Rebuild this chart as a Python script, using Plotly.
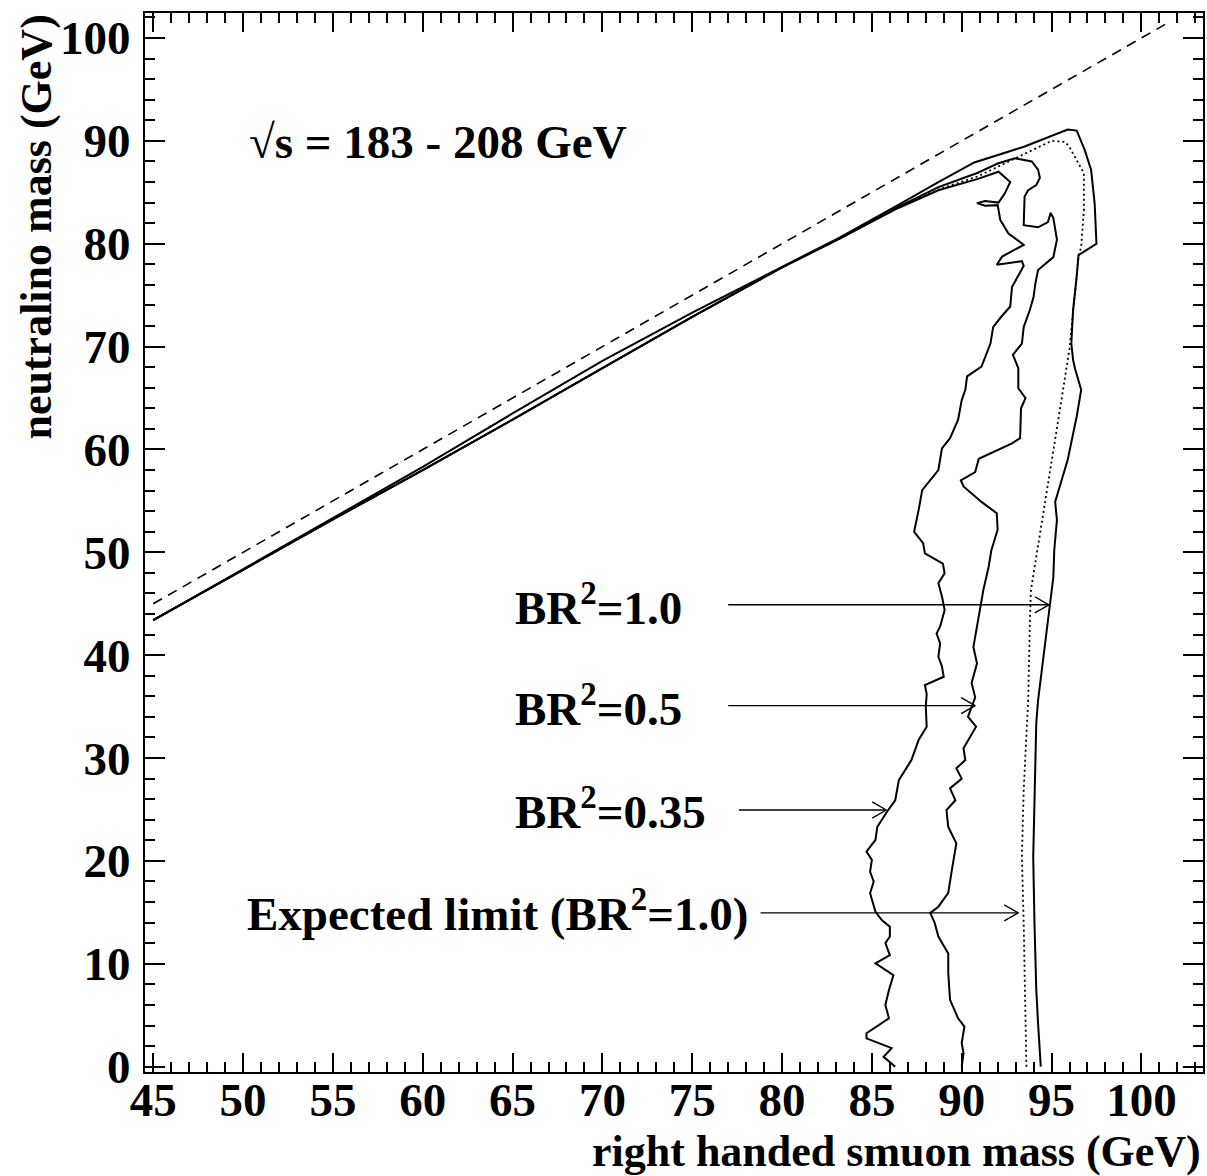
import plotly.graph_objects as go

# ---------------- data ----------------
# kinematic limit (dashed): neutralino mass = smuon mass
kin_x = [45.0, 101.6]
kin_y = [45.0, 101.6]

# observed limit BR^2 = 1.0 (outer solid)
obs10_x = [45.0, 50.0, 55.0, 60.0, 65.0, 70.0, 75.0, 80.0, 83.2, 86.5, 88.7, 90.7, 93.5, 95.9, 96.4,
           96.85, 97.2, 97.4, 97.5, 96.5, 96.4, 96.2, 96.1, 96.2, 96.3, 96.65, 96.4, 95.9, 95.5, 95.2,
           95.3, 95.15, 95.1, 94.9, 94.7, 94.45, 94.25, 94.15, 94.05, 93.98, 94.05, 94.15, 94.25, 94.4]
obs10_y = [43.4, 48.35, 53.3, 58.3, 63.5, 68.6, 73.3, 77.8, 80.6, 83.8, 86.0, 87.9, 89.45, 91.1, 91.0,
           89.1, 87.2, 83.9, 80.0, 78.9, 76.8, 73.6, 70.3, 68.7, 67.9, 65.8, 63.2, 59.0, 56.7, 54.9,
           53.15, 50.2, 47.6, 44.9, 42.1, 38.6, 35.6, 33.4, 26.9, 20.4, 13.9, 7.5, 4.2, 0.0]

# expected limit BR^2 = 1.0 (dotted)
exp10_x = [45.0, 50.0, 55.0, 60.0, 65.0, 70.0, 75.0, 80.0, 83.2, 86.5, 88.9, 90.9, 93.15, 95.0, 95.75,
           96.0, 96.5, 96.8, 96.8, 96.65, 96.5, 96.4, 96.2, 96.0, 95.55, 95.2, 94.8, 94.45, 94.1,
           93.85, 93.8, 93.7, 93.45, 93.35, 93.45, 93.5, 93.6]
exp10_y = [43.4, 48.3, 53.2, 58.0, 62.9, 67.9, 72.9, 77.7, 80.5, 83.6, 85.4, 86.55, 88.45, 90.0, 89.9,
           89.4, 87.8, 86.85, 83.3, 79.7, 78.7, 76.8, 73.6, 69.8, 64.8, 60.9, 56.7, 52.8, 48.9,
           46.3, 43.7, 35.6, 26.9, 20.4, 13.9, 7.5, 0.0]

# observed limit BR^2 = 0.5 (middle solid)
obs05_x = [45.0, 50.0, 55.0, 60.0, 65.0, 70.0, 75.0, 80.0, 83.2, 86.5, 88.7, 90.9, 92.0, 92.95, 93.9,
           94.25, 94.35, 94.15, 93.7, 93.5, 93.45, 94.25, 94.8, 94.95, 95.1, 95.3, 95.1, 94.25, 94.1,
           94.0, 93.8, 93.45, 93.35, 92.85, 93.15, 93.15, 93.55, 93.3, 93.25, 92.8, 90.95, 90.75,
           89.95, 90.1, 91.1, 91.95, 92.0, 91.65, 91.5, 91.2, 91.0, 90.85, 90.65, 90.85, 90.55, 90.75,
           90.35, 90.8, 90.1, 90.2, 89.7, 90.0, 89.35, 89.65, 89.15, 89.25, 89.7, 89.45, 89.25, 88.7,
           88.25, 88.5, 88.7, 89.25, 89.25, 89.35, 89.8, 90.15, 90.0, 90.1, 90.0]
obs05_y = [43.4, 48.3, 53.2, 58.0, 62.9, 67.9, 72.9, 77.7, 80.5, 83.6, 85.5, 86.9, 87.8, 88.3, 88.0,
           87.2, 86.4, 85.7, 85.2, 84.6, 81.8, 81.6, 82.1, 83.0, 82.5, 80.4, 78.7, 77.45, 76.15,
           74.85, 73.6, 71.9, 70.3, 69.2, 67.9, 65.95, 65.0, 64.0, 61.1, 60.6, 59.1, 57.8,
           57.0, 56.4, 54.9, 53.8, 52.2, 50.2, 48.6, 46.3, 44.4, 42.8, 40.8, 39.2, 37.3, 35.9,
           34.0, 33.05, 30.95, 29.8, 29.0, 28.0, 27.05, 25.9, 24.95, 23.3, 21.7, 19.1, 16.9, 15.55,
           14.95, 13.95, 12.65, 11.0, 9.1, 6.5, 4.7, 3.9, 2.3, 1.3, 0.0]

# observed limit BR^2 = 0.35 (inner solid)
obs035_x = [45.0, 50.0, 55.0, 60.0, 65.0, 70.0, 75.0, 80.0, 83.2, 86.5, 88.7, 90.9, 92.05, 92.7,
            92.4, 92.05, 91.3, 90.85, 91.3, 92.0, 92.15, 92.6, 93.45, 92.25, 91.95, 93.35, 93.45,
            92.8, 92.7, 92.2, 91.75, 91.6, 91.35, 91.1, 90.3, 90.2, 90.0, 89.8, 89.35, 88.9, 88.7,
            87.8, 87.6, 87.35, 87.85, 87.95, 88.95, 89.05, 88.7, 88.9, 89.05, 88.8, 88.6, 88.8, 88.7,
            88.9, 89.0, 87.95, 88.05, 88.0, 88.05, 87.6, 87.2, 86.5, 86.3, 85.85, 85.3, 85.2, 84.7,
            85.0, 84.9, 85.1, 84.9, 85.2, 85.55, 86.0, 86.0, 85.75, 86.0, 85.2, 86.2, 85.95, 85.75,
            85.95, 84.7, 84.7, 86.1, 85.65, 86.3]
obs035_y = [43.4, 48.3, 53.2, 58.0, 62.9, 67.9, 72.9, 77.7, 80.5, 83.5, 85.2, 86.3, 87.0, 86.0,
            84.9, 84.0, 84.15, 83.95, 83.7, 83.75, 82.3, 81.0, 79.9, 78.75, 77.95, 78.3, 77.85,
            75.8, 73.9, 72.9, 71.9, 70.3, 69.2, 68.05, 67.1, 65.8, 64.8, 62.9, 61.1, 60.1, 58.0,
            56.05, 54.1, 52.0, 50.9, 49.9, 48.9, 47.95, 47.0, 45.7, 44.4, 42.8, 42.1, 41.15, 39.85,
            38.9, 37.9, 37.1, 36.2, 35.0, 33.05, 31.75, 29.8, 27.85, 25.9, 24.8, 23.3, 22.05, 20.9,
            20.1, 18.95, 18.0, 16.85, 15.05, 14.25, 13.6, 12.65, 12.0, 10.85, 10.05, 8.9, 7.45, 6.0,
            4.7, 3.25, 2.75, 1.8, 0.95, 0.0]

# labels with arrows: text, text x (left edge), text y, arrow start x, arrow tip x, arrow y
label_text = ["BR<sup>2</sup>=1.0", "BR<sup>2</sup>=0.5", "BR<sup>2</sup>=0.35",
              "Expected limit (BR<sup>2</sup>=1.0)"]
label_x = [65.0, 65.0, 65.0, 50.1]
label_y = [44.9, 35.15, 25.05, 15.15]
arrow_x0 = [77.0, 77.0, 77.6, 78.8]
arrow_x1 = [94.85, 90.75, 85.8, 93.15]
arrow_y = [44.9, 35.1, 24.95, 14.95]

energy_text = "√s = 183 - 208 GeV"
energy_x, energy_y = 50.2, 89.9

x_ticks = [45, 50, 55, 60, 65, 70, 75, 80, 85, 90, 95, 100]
y_ticks = [0, 10, 20, 30, 40, 50, 60, 70, 80, 90, 100]

# ---------------- figure ----------------
FONT = "Liberation Serif"
fig = go.Figure()

fig.add_trace(go.Scatter(x=kin_x, y=kin_y, mode="lines",
                         line=dict(color="black", width=1.6, dash="10px,7px")))
for xs, ys in [(obs10_x, obs10_y), (obs05_x, obs05_y), (obs035_x, obs035_y)]:
    fig.add_trace(go.Scatter(x=xs, y=ys, mode="lines",
                             line=dict(color="black", width=2.0)))
fig.add_trace(go.Scatter(x=exp10_x, y=exp10_y, mode="lines",
                         line=dict(color="black", width=1.8, dash="2px,3px")))

# arrows (shaft + open head)
hx, hy = 0.78, 0.78
for x0, x1, y in zip(arrow_x0, arrow_x1, arrow_y):
    fig.add_trace(go.Scatter(x=[x0, x1, None, x1 - hx, x1, x1 - hx],
                             y=[y, y, None, y + hy, y, y - hy],
                             mode="lines", line=dict(color="black", width=1.4)))

for t, x, y in zip(label_text, label_x, label_y):
    fig.add_annotation(x=x, y=y, xref="x", yref="y", text=t, showarrow=False,
                       xanchor="left", yanchor="middle",
                       font=dict(family=FONT, size=47, color="black", weight="bold"))

fig.add_annotation(x=energy_x, y=energy_y, xref="x", yref="y", text=energy_text,
                   showarrow=False, xanchor="left", yanchor="middle",
                   font=dict(family=FONT, size=47, color="black", weight="bold"))

# axis titles
fig.add_annotation(x=1.0, y=-0.0755, xref="paper", yref="paper",
                   text="right handed smuon mass (GeV)", showarrow=False,
                   xanchor="right", yanchor="middle",
                   font=dict(family=FONT, size=44, color="black", weight="bold"))
fig.add_annotation(x=-0.103, y=1.0, xref="paper", yref="paper",
                   text="neutralino mass (GeV)", showarrow=False, textangle=-90,
                   xanchor="center", yanchor="top",
                   font=dict(family=FONT, size=44, color="black", weight="bold"))

axis_common = dict(showgrid=False, zeroline=False, showline=True, linecolor="black",
                   linewidth=2, mirror="allticks", ticks="inside", tickcolor="black",
                   tickwidth=1.5,
                   tickfont=dict(family=FONT, size=47, color="black", weight="bold"))

fig.update_xaxes(range=[44.54, 103.43], tickvals=x_ticks, ticklen=19,
                 ticklabelstandoff=-14,
                 minor=dict(dtick=1, tick0=45, ticklen=10, ticks="inside",
                            tickcolor="black", tickwidth=1.5, showgrid=False),
                 **axis_common)
fig.update_yaxes(range=[-0.52, 102.43], tickvals=y_ticks, ticklen=20,
                 ticklabelstandoff=3,
                 minor=dict(dtick=2, tick0=0, ticklen=10, ticks="inside",
                            tickcolor="black", tickwidth=1.5, showgrid=False),
                 **axis_common)

fig.update_layout(width=1207, height=1176, showlegend=False,
                  margin=dict(l=145, r=2, t=13, b=104),
                  plot_bgcolor="white", paper_bgcolor="white")

fig.write_html("out.html")
